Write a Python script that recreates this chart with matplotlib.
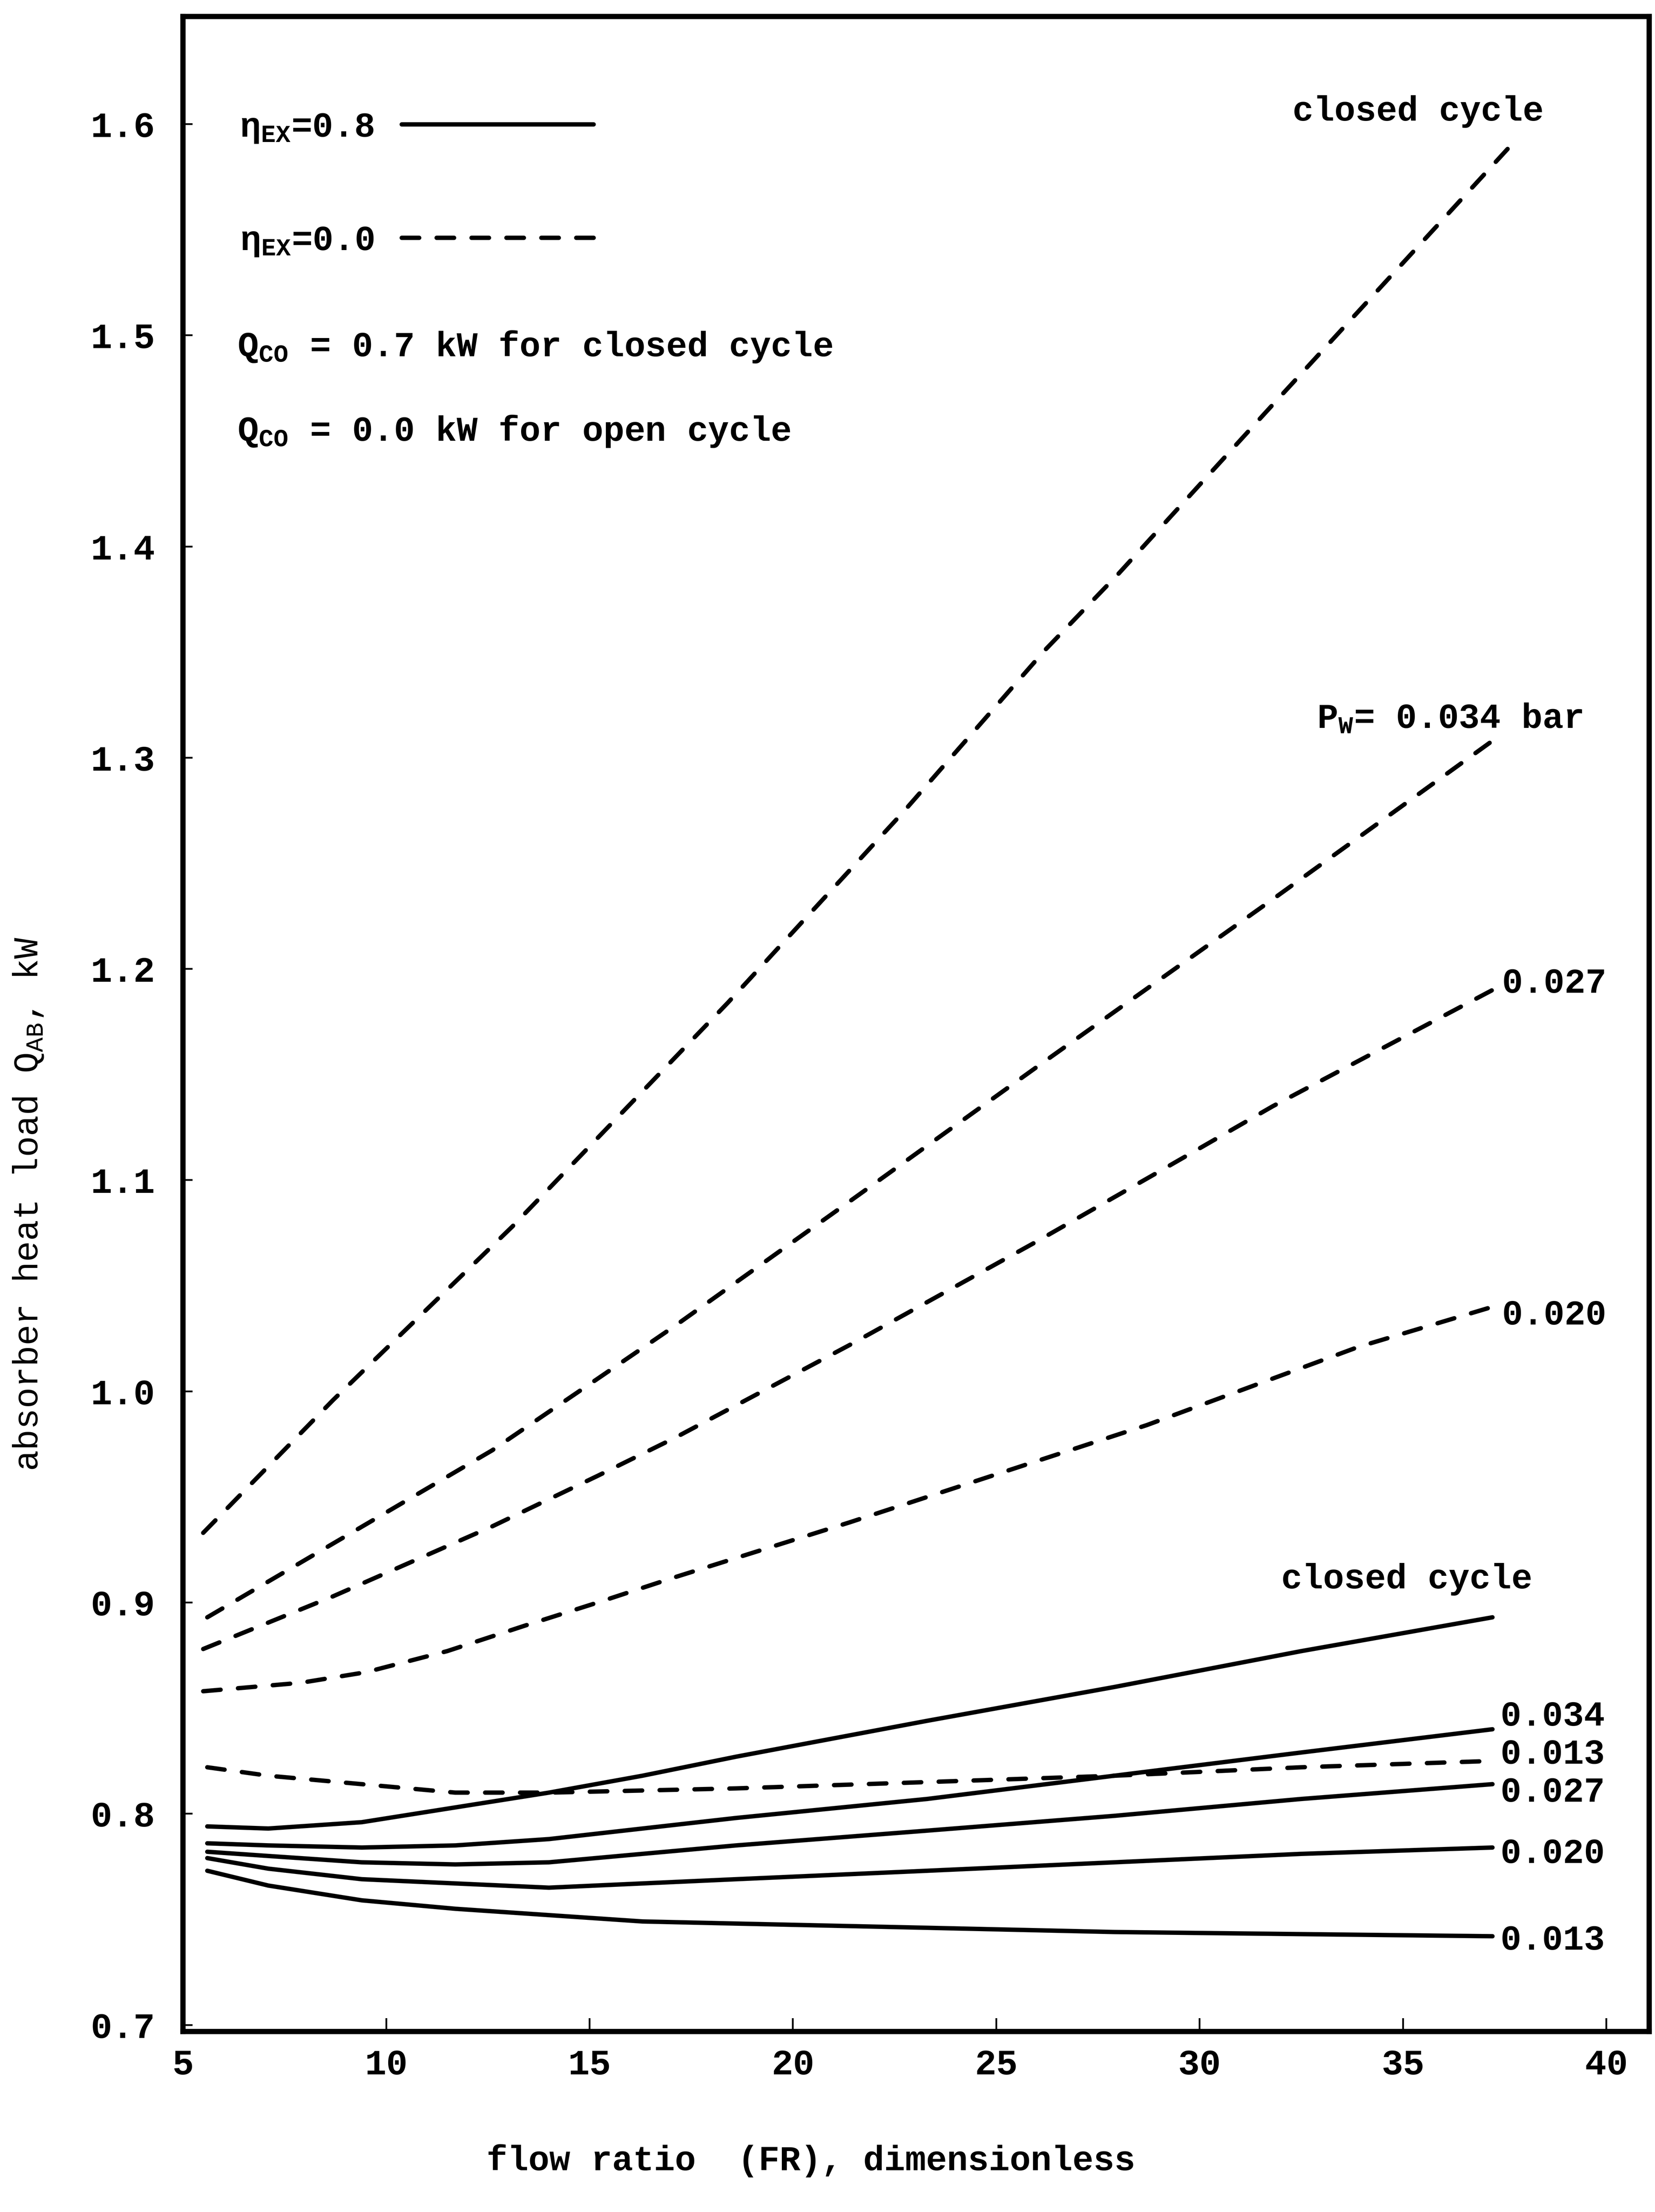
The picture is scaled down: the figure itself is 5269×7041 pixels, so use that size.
import matplotlib.pyplot as plt

plt.rcParams['font.family'] = ['Liberation Mono', 'DejaVu Sans']
plt.rcParams['mathtext.default'] = 'regular'

# flow ratio (FR) vs absorber heat load (kW)
# eta_EX = 0.0 (dashed)
fr_dash_closed = [5.5, 8.7, 13.1, 18.4, 22.7, 26.2, 28.0, 31.6, 37.8]
q_dash_closed = [0.933, 0.996, 1.078, 1.184, 1.274, 1.351, 1.387, 1.463, 1.593]

fr_dash_034 = [5.6, 8.7, 12.6, 15.2, 17.1, 21.4, 26.1, 31.8, 37.2]
q_dash_034 = [0.893, 0.928, 0.972, 1.006, 1.031, 1.090, 1.155, 1.233, 1.308]

fr_dash_027 = [5.5, 8.7, 12.6, 15.2, 17.1, 21.4, 26.0, 29.0, 31.8, 37.2]
q_dash_027 = [0.878, 0.903, 0.936, 0.960, 0.978, 1.022, 1.071, 1.104, 1.135, 1.190]

fr_dash_020 = [5.5, 7.9, 9.5, 11.5, 13.4, 15.2, 17.1, 21.4, 28.7, 33.9, 37.2]
q_dash_020 = [0.858, 0.862, 0.867, 0.877, 0.889, 0.900, 0.912, 0.938, 0.984, 1.021, 1.040]

# solid curves and the 0.013 dashed curve share one FR grid
fr_low = [5.6, 7.1, 9.4, 11.7, 14.0, 16.3, 18.6, 23.3, 27.9, 32.5, 37.2]
q_dash_013 = [0.822, 0.818, 0.814, 0.810, 0.810, 0.811, 0.812, 0.815, 0.818, 0.822, 0.825]

# eta_EX = 0.8 (solid)
q_solid_closed = [0.794, 0.793, 0.796, 0.803, 0.810, 0.818, 0.827, 0.844, 0.860, 0.877, 0.893]
q_solid_034 = [0.786, 0.785, 0.784, 0.785, 0.788, 0.793, 0.798, 0.807, 0.818, 0.829, 0.840]
q_solid_027 = [0.782, 0.780, 0.777, 0.776, 0.777, 0.781, 0.785, 0.792, 0.799, 0.807, 0.814]
q_solid_020 = [0.779, 0.774, 0.769, 0.767, 0.765, 0.767, 0.769, 0.773, 0.777, 0.781, 0.784]
q_solid_013 = [0.773, 0.766, 0.759, 0.755, 0.752, 0.749, 0.748, 0.746, 0.744, 0.743, 0.742]

x_ticks = [5, 10, 15, 20, 25, 30, 35, 40]
y_ticks = [0.7, 0.8, 0.9, 1.0, 1.1, 1.2, 1.3, 1.4, 1.5, 1.6]

fig = plt.figure(figsize=(52.69, 70.41), dpi=100)
ax = fig.add_axes([0.1105, 0.0817, 0.8859, 0.9109])

solid_kw = dict(color='black', lw=10, solid_capstyle='round')
dash_kw = dict(color='black', lw=10, linestyle=(0, (4, 4)), dash_capstyle='round')

h_dash, = ax.plot(fr_dash_closed, q_dash_closed, **dash_kw)
ax.plot(fr_dash_034, q_dash_034, **dash_kw)
ax.plot(fr_dash_027, q_dash_027, **dash_kw)
ax.plot(fr_dash_020, q_dash_020, **dash_kw)
ax.plot(fr_low, q_dash_013, **dash_kw)

h_solid, = ax.plot(fr_low, q_solid_closed, **solid_kw)
ax.plot(fr_low, q_solid_034, **solid_kw)
ax.plot(fr_low, q_solid_027, **solid_kw)
ax.plot(fr_low, q_solid_020, **solid_kw)
ax.plot(fr_low, q_solid_013, **solid_kw)

ax.set_xlim(5, 41.05)
ax.set_ylim(0.697, 1.651)
ax.set_xticks(x_ticks)
ax.set_xticklabels([str(t) for t in x_ticks])
ax.set_yticks(y_ticks)
ax.set_yticklabels(['%.1f' % t for t in y_ticks])
ax.tick_params(axis='both', direction='in', width=4, labelsize=82)
ax.tick_params(axis='x', length=30, pad=40)
ax.tick_params(axis='y', length=22, pad=64)
for lab in ax.get_xticklabels() + ax.get_yticklabels():
    lab.set_fontweight('bold')
for sp in ax.spines.values():
    sp.set_linewidth(12)

ax.legend([h_solid, h_dash], ['η$_{EX}$=0.8', 'η$_{EX}$=0.0'],
          loc='upper left', bbox_to_anchor=(0.0388, 0.953), frameon=False,
          markerfirst=False, handlelength=5.5, handletextpad=0.8,
          labelspacing=2.3, borderpad=0, borderaxespad=0,
          prop={'size': 80, 'weight': 'bold'})

txt = dict(fontsize=80, fontweight='bold', color='black')
ax.text(6.34, 1.490, 'Q$_{CO}$ = 0.7 kW for closed cycle', ha='left', va='baseline', **txt)
ax.text(6.34, 1.450, 'Q$_{CO}$ = 0.0 kW for open cycle', ha='left', va='baseline', **txt)

ax.text(35.37, 1.606, 'closed cycle', ha='center', va='center', **txt)
ax.text(32.89, 1.314, 'P$_{W}$= 0.034 bar', ha='left', va='baseline', **txt)
ax.text(37.43, 1.193, '0.027', ha='left', va='center', **txt)
ax.text(37.43, 1.036, '0.020', ha='left', va='center', **txt)
ax.text(35.09, 0.911, 'closed cycle', ha='center', va='center', **txt)

ax.text(37.39, 0.846, '0.034', ha='left', va='center', **txt)
ax.text(37.39, 0.828, '0.013', ha='left', va='center', **txt)
ax.text(37.39, 0.810, '0.027', ha='left', va='center', **txt)
ax.text(37.39, 0.781, '0.020', ha='left', va='center', **txt)
ax.text(37.39, 0.740, '0.013', ha='left', va='center', **txt)

fig.text(2582 / 5269, 1 - 6878 / 7041, 'flow ratio  (FR), dimensionless',
         ha='center', va='center', fontsize=80, fontweight='bold')
fig.text(90 / 5269, 1 - 3833 / 7041, 'absorber heat load Q$_{AB}$, kW',
         ha='center', va='center', rotation=90, fontsize=80)

fig.savefig('out.png', dpi=100)
